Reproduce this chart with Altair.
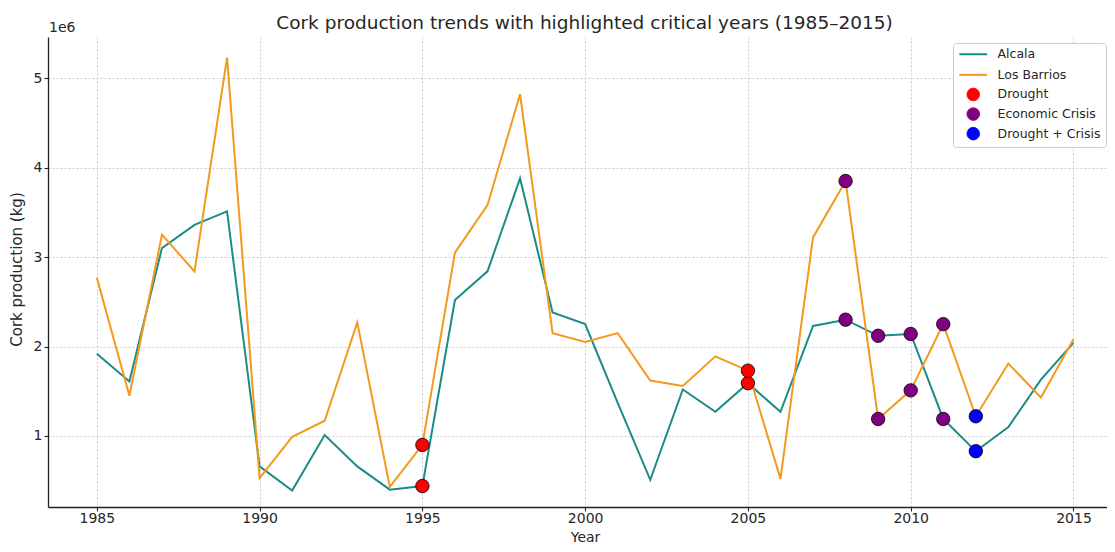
import altair as alt
import pandas as pd

# ---------------- data ----------------
years = list(range(1985, 2016))
alcala = [1.92, 1.61, 3.10, 3.36, 3.51, 0.66, 0.39, 1.01, 0.66, 0.40,
          0.44, 2.52, 2.84, 3.88, 2.38, 2.25, 1.37, 0.51, 1.52, 1.27,
          1.59, 1.27, 2.23, 2.30, 2.12, 2.14, 1.19, 0.83, 1.10, 1.63,
          2.04]
los_barrios = [2.77, 1.45, 3.25, 2.84, 5.23, 0.53, 0.99, 1.17, 2.27, 0.43,
               0.90, 3.05, 3.58, 4.82, 2.15, 2.05, 2.15, 1.62, 1.56, 1.89,
               1.73, 0.52, 3.22, 3.85, 1.19, 1.51, 2.25, 1.22, 1.81, 1.43,
               2.08]
series_names = ["Alcala", "Los Barrios"]
event_names = ["Drought", "Economic Crisis", "Drought + Crisis"]
drought_years = [1995, 2005]
crisis_years = [2008, 2009, 2010, 2011]
both_years = [2012]
x_ticks = [1985, 1990, 1995, 2000, 2005, 2010, 2015]
y_ticks = [1e6, 2e6, 3e6, 4e6, 5e6]

# ---------------- styling ----------------
TEAL = "#1a8c87"
ORANGE = "#f39a1e"
colors = [TEAL, ORANGE, "#ff0000", "#800080", "#0000ff"]
# horizontal line symbol; the bare move-tos give it about the height of a circle
LINE_PATH = "M0,-0.68M-2.2,0H2.2M0,0.68"
FONT = "DejaVu Sans"
TXT = "#262626"

rows = []
for name, vals in zip(series_names, [alcala, los_barrios]):
    for yr, v in zip(years, vals):
        rows.append({"year": yr, "value": v * 1e6, "label": name})
lines_df = pd.DataFrame(rows)

pts = []
for ev, yrs in zip(event_names, [drought_years, crisis_years, both_years]):
    for yr in yrs:
        i = years.index(yr)
        for vals in [alcala, los_barrios]:
            pts.append({"year": yr, "value": vals[i] * 1e6, "label": ev})
pts_df = pd.DataFrame(pts)

all_labels = series_names + event_names

x_enc = alt.X(
    "year:Q",
    scale=alt.Scale(domain=[1983.5, 2016.03], nice=False, zero=False),
    axis=alt.Axis(values=x_ticks, format="d", title="Year", titleX=537,
                  titleY=34, titleBaseline="alphabetic", titleFontSize=14,
                  labelPadding=0),
)
y_enc = alt.Y(
    "value:Q",
    scale=alt.Scale(domain=[0.206e6, 5.46e6], nice=False, zero=False),
    axis=alt.Axis(values=y_ticks, labelExpr="format(datum.value / 1e6, 'd')",
                  title="Cork production (kg)", titlePadding=9, labelPadding=2,
                  titleY=232),
)

is_line = "(datum.value === 'Alcala' || datum.value === 'Los Barrios')"
stroke_expr = ("datum.value === 'Alcala' ? '%s' : (datum.value === 'Los Barrios' ? '%s' : 'black')"
               % (TEAL, ORANGE))
legend_cfg = dict(
    title=None,
    orient="none",
    legendX=905,
    legendY=6,
    padding=5,
    symbolOffset=9,
    labelOffset=18,
    rowPadding=2.6,
    strokeColor="#cccccc",
    fillColor="white",
    cornerRadius=3,
    labelFont=FONT,
    labelFontSize=12.5,
    labelColor=TXT,
    symbolSize=160,
    symbolOpacity=1,
    symbolStrokeColor=alt.ExprRef(expr=stroke_expr),
    symbolStrokeWidth=alt.ExprRef(expr=is_line + " ? 2 : 0.8"),
)

color_scale = alt.Scale(domain=all_labels, range=colors)
shape_scale = alt.Scale(domain=all_labels,
                        range=[LINE_PATH, LINE_PATH, "circle", "circle", "circle"])

lines = alt.Chart(lines_df).mark_line(strokeWidth=2).encode(
    x=x_enc,
    y=y_enc,
    color=alt.Color("label:N", scale=color_scale, legend=alt.Legend(**legend_cfg)),
    order=alt.Order("year:Q"),
)

points = alt.Chart(pts_df).mark_point(
    filled=True, size=180, stroke="black", strokeWidth=0.8, opacity=1
).encode(
    x=x_enc,
    y=y_enc,
    color=alt.Color("label:N", scale=color_scale, legend=alt.Legend(**legend_cfg)),
    shape=alt.Shape("label:N", scale=shape_scale, legend=alt.Legend(**legend_cfg)),
)

offset_text = alt.Chart(pd.DataFrame({"t": ["1e6"]})).mark_text(
    align="left", baseline="alphabetic", font=FONT, fontSize=14, color=TXT
).encode(text="t:N", x=alt.value(1), y=alt.value(-5))

chart = alt.layer(lines, points, offset_text).properties(
    width=1059,
    height=470,
    autosize=alt.AutoSizeParams(type="none"),
    padding={"left": 40, "top": 29, "right": 0, "bottom": 37},
    title=alt.Title(
        "Cork production trends with highlighted critical years (1985–2015)",
        font=FONT, fontSize=18.5, fontWeight="normal", color=TXT,
        anchor="middle", offset=6, dx=7, dy=17,
    ),
).configure_view(stroke=None).configure_axis(
    labelFont=FONT, labelFontSize=14, labelColor=TXT,
    titleFont=FONT, titleFontSize=15, titleFontWeight="normal", titleColor=TXT,
    domainColor="#222222", domainWidth=1.3,
    tickColor="#222222", tickSize=4, tickWidth=1.1,
    grid=True, gridColor="#cccccc", gridDash=[2, 2], gridWidth=1,
)

chart.save("out.html", embed_options={"renderer": "svg", "actions": False})
